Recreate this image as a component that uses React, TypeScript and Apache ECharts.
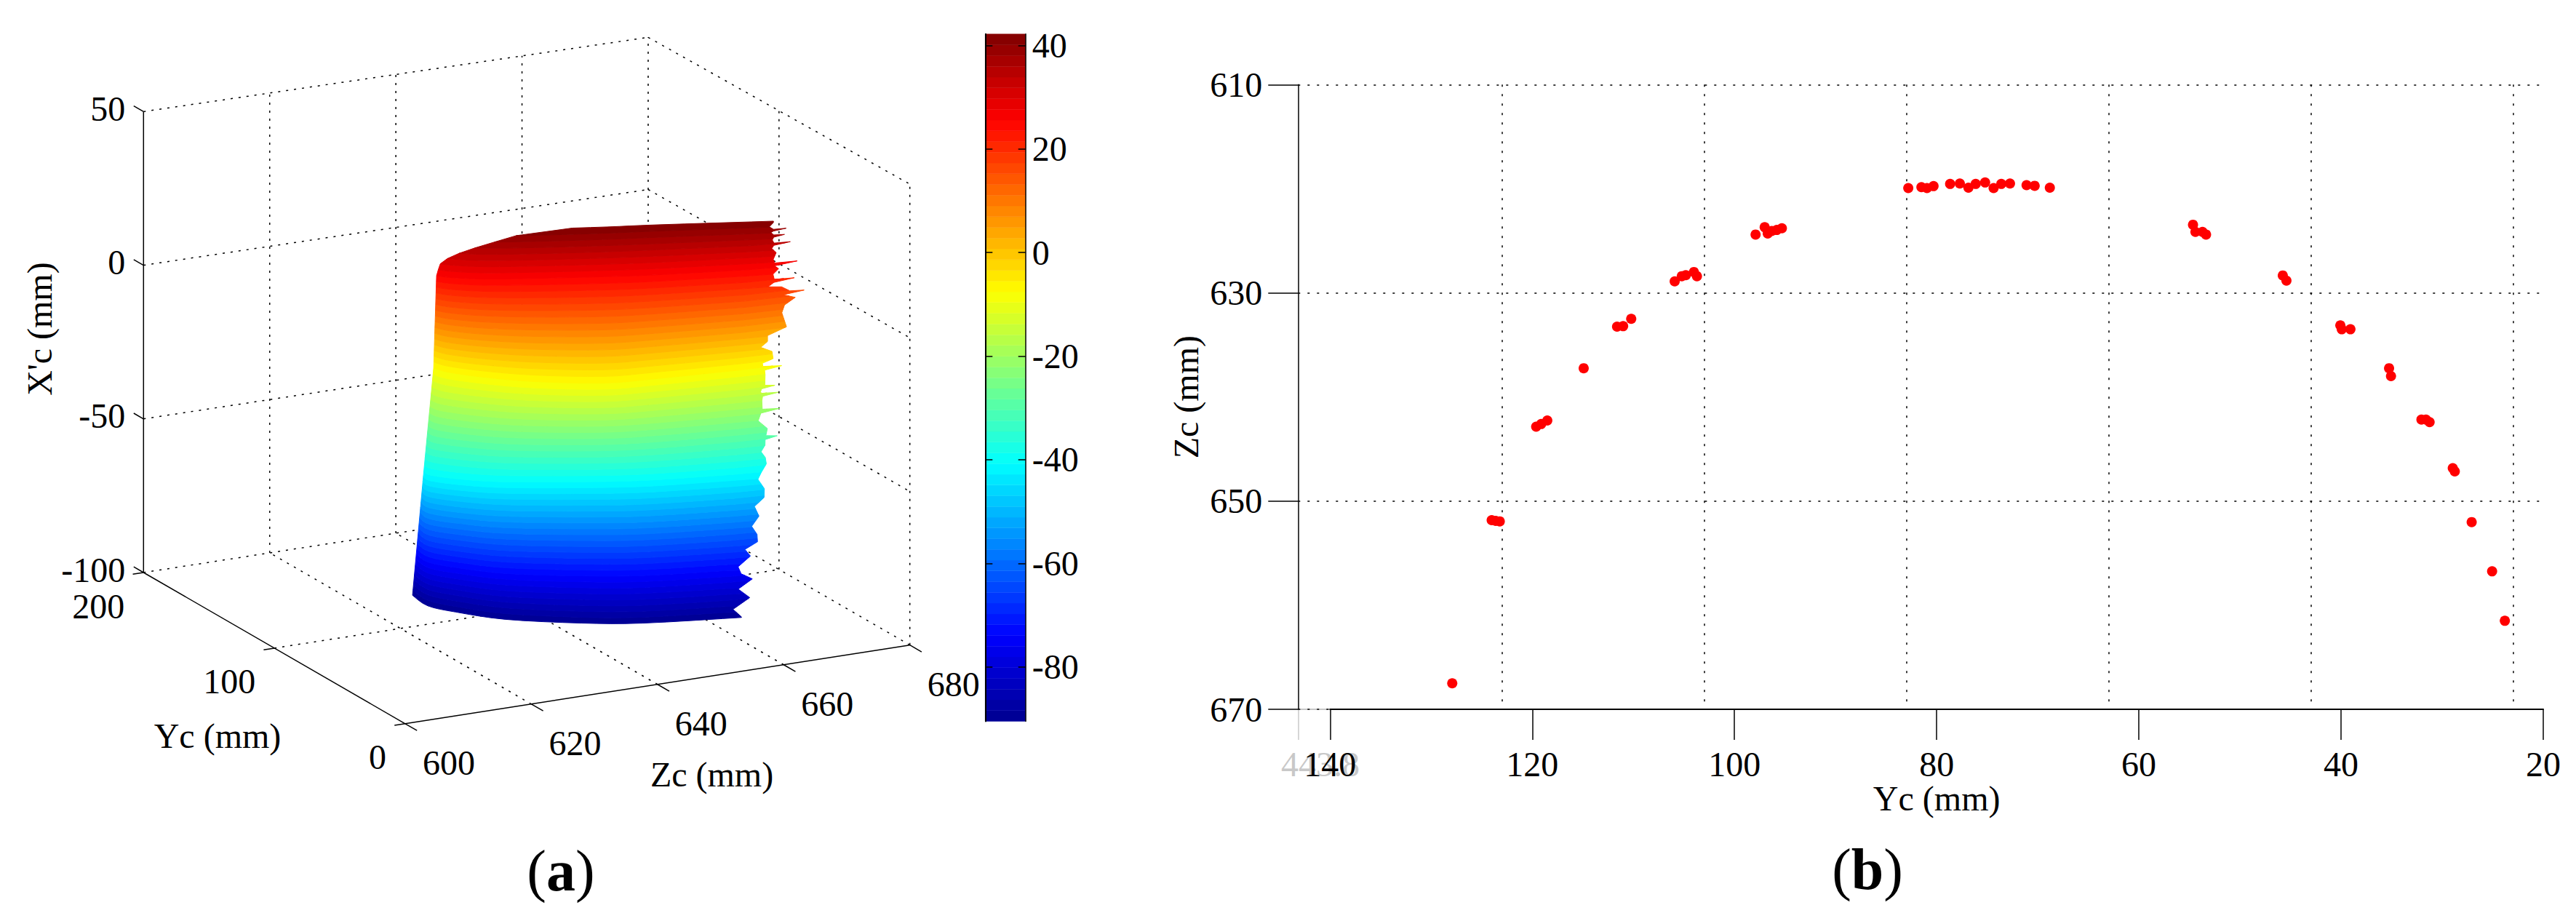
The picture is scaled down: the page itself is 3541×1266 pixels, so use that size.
import { useEffect, useRef } from 'react'
import * as echarts from 'echarts'

const SERIF = 'Liberation Serif'

// panel (a) axes
const zcTicks = [600, 620, 640, 660, 680]
const ycTicks = [0, 100, 200]
const xcTicks = [-100, -50, 0, 50]

// colour bar
const colorTicks = [-80, -60, -40, -20, 0, 20, 40]
const levelEdges = [
  -90.5, -88.43, -86.35, -84.28, -82.21, -80.13, -78.06, -75.99, -73.91, -71.84, -69.77, -67.69, -65.62,
  -63.55, -61.47, -59.4, -57.33, -55.25, -53.18, -51.11, -49.03, -46.96, -44.89, -42.81, -40.74, -38.67,
  -36.59, -34.52, -32.45, -30.37, -28.3, -26.23, -24.15, -22.08, -20.01, -17.93, -15.86, -13.79, -11.71,
  -9.64, -7.57, -5.49, -3.42, -1.35, 0.73, 2.8, 4.87, 6.95, 9.02, 11.09, 13.17, 15.24, 17.31, 19.39, 21.46,
  23.53, 25.61, 27.68, 29.75, 31.83, 33.9, 35.97, 38.05, 40.12, 42.2,
]

// surface cross sections, one row of stations per X'c value
const sectionXc = [-90.5, -41, -7.6, 25.6, 42.2]
const sectionZc = [
  [622.36, 621.99, 624.15, 628.79, 637.43, 645.05, 658.64],
  [617.63, 617.55, 620.96, 625.93, 636.7, 644.53, 658.79],
  [619.16, 619.93, 623.37, 628.77, 637.07, 644.36, 659.78],
  [617.37, 618.78, 622.55, 629.06, 638.06, 644.8, 660.63],
  [617.46, 618.8, 622.57, 629.07, 638.16, 644.97, 660.18],
]
const sectionYc = [
  [102.2, 88.74, 77.73, 62.01, 45.85, 35.86, 25.72],
  [70.79, 65.12, 54.87, 45.46, 31.79, 23.92, 14.82],
  [70.62, 63.82, 52.57, 39.7, 26.88, 23.09, 17.29],
  [59.78, 55.51, 48.64, 41.06, 31.64, 25.2, 13.09],
  [58.02, 53.37, 46.5, 38.93, 29.89, 23.83, 8.68],
]

// torn right edge of the surface: extra Zc (mm) past the last station
const rightEdgeXc = [
  -90.3, -87.2, -84, -80.4, -77.6, -75.2, -72.6, -69.5, -66.9, -64.9, -62.3, -59.2, -56, -52.4, -49.8, -46.7,
  -43.1, -41, -38.4, -36.3, -34.3, -32.4, -30.6, -30, -29.4, -27.2, -24.3, -22, -21.4, -20.8, -18.1, -16.7,
  -16.2, -15.7, -15.2, -14.3, -13.8, -13.3, -11.9, -10, -8.5, -7.9, -7.2, -6.1, -5.1, -2.6, -0.6, 1, 3, 5,
  7.5, 10, 12.5, 14.5, 16, 16.5, 17, 18.8, 19.5, 20.7, 21.2, 21.7, 23.5, 25.1, 26.3, 26.8, 27.3, 28.7, 30.9,
  32.6, 33.6, 34, 34.4, 35.6, 36.5, 36.9, 37.3, 38.3, 38.7, 39, 39.3, 40.4, 41.7,
]
const rightEdgeZc = [
  0, -1.5, 1, -1, 1.1, -0.8, -1.4, 0.4, -0.6, 1.3, 1.1, 0.1, 1.1, 0.2, 1.6, 1.5,
  0.3, 0.7, 1.5, 1.3, 0.6, 1.2, 1.2, 3.1, 1.3, 1.5, 0, 0.4, 3.4, 0.6, 0.5, 0.6,
  3.1, 0.4, 0.25, 0.4, 2.5, 0.9, 0.9, 0.9, 0.8, 3.5, 0.5, 0.35, 2, 1.7, -0.2, 0.8, 0.7, 3.6,
  3.1, 2.6, 2.9, 4.5, 2.5, 5.8, 3.5, 2.1, -0.1, 0.8, 4, 0.8, 0.5, 1.3, 0.6, 4.2, 0.6, 0.35, 0.75,
  0, 0.3, 2.9, 0.3, 0, 0.2, 1.9, 0.2, -0.3, 0.1, 2.1, 0.1, -0.6, 0,
]

// the upper left rim cuts the top rows: first station drawn per X'c
const rimXc = [25.6, 30, 33.4, 36.3, 39.1, 40.5, 41.7, 42.2]
const rimStation = [0, 0.35, 1.14, 1.8, 2.43, 2.7, 3.2, 3.5]

// panel (b) scan points
const scanYc = [
  127.9, 124, 123.6, 123.2, 119.6, 119.1, 118.5, 114.9, 111.6, 111, 110.2, 105.9, 105.2, 104.8, 104, 103.7,
  97.9, 97, 96.7, 96.3, 95.8, 95.3, 82.8, 81.5, 80.95, 80.3, 78.66, 77.7, 76.85, 76.13, 75.2, 74.36, 73.6,
  72.74, 71.1, 70.3, 68.8, 54.64, 54.4, 53.7, 53.35, 45.76, 45.4, 40.07, 39.93, 39.07, 35.25, 35.06, 32.05,
  31.6, 31.24, 28.95, 28.75, 27.08, 25.06, 23.8,
]
const scanZc = [
  667.5, 651.83, 651.9, 651.95, 642.85, 642.6, 642.26, 637.24, 633.25, 633.2, 632.5, 628.9, 628.4, 628.3, 628,
  628.4, 624.4, 623.7, 624.3, 624.06, 623.96, 623.8, 619.94, 619.85, 619.94, 619.75, 619.54, 619.5, 619.9,
  619.54, 619.4, 619.94, 619.54, 619.5, 619.66, 619.72, 619.9, 623.46, 624.15, 624.15, 624.4, 628.33, 628.83,
  633.13, 633.5, 633.5, 637.24, 638, 642.17, 642.17, 642.42, 646.84, 647.15, 652.02, 656.75, 661.5,
]
const ycAxisTicks = [140, 120, 100, 80, 60, 40, 20]
const ycGridLines = [123, 103, 83, 63, 43, 23]
const zcAxisTicks = [610, 630, 650, 670]

const JET = ['#00008f', '#0000ff', '#007fff', '#00ffff', '#7fff7f', '#ffff00', '#ff7f00', '#ff0000', '#7f0000']

// 3D view of panel (a), in the units of the hidden plane axes
function project(zc: number, yc: number, xc: number): number[] {
  const z = zc - 600
  const h = xc + 100
  return [
    359.7 + 8.671 * z - 1.7985 * yc,
    1.351 * z + 1.039 * yc + 4.224 * h - 6 * (z / 80) * (yc / 200) * (h / 150),
  ]
}

function lerp(xs: number[], ys: number[], x: number) {
  if (x <= xs[0]) return ys[0]
  for (let i = 1; i < xs.length; i++) {
    if (x <= xs[i]) return ys[i - 1] + ((ys[i] - ys[i - 1]) * (x - xs[i - 1])) / (xs[i] - xs[i - 1])
  }
  return ys[ys.length - 1]
}

function sectionAt(xc: number) {
  return sectionZc[0].map((_, s) => [
    lerp(sectionXc, sectionZc.map((r) => r[s]), xc),
    lerp(sectionXc, sectionYc.map((r) => r[s]), xc),
  ])
}

// rounds the section between its stations so the rim does not look faceted
function curveAt(sec: number[][], s: number) {
  const last = sec.length - 1
  const i = Math.min(Math.floor(s), last - 1)
  const t = s - i
  const p0 = sec[Math.max(i - 1, 0)]
  const p1 = sec[i]
  const p2 = sec[i + 1]
  const p3 = sec[Math.min(i + 2, last)]
  return [0, 1].map(
    (k) =>
      0.5 *
      (2 * p1[k] +
        (p2[k] - p0[k]) * t +
        (2 * p0[k] - 5 * p1[k] + 4 * p2[k] - p3[k]) * t * t +
        (3 * p1[k] - p0[k] - 3 * p2[k] + p3[k]) * t * t * t),
  )
}

// one X'c row, from the left rim to the torn right end
function rowPoints(xc: number) {
  const sec = sectionAt(xc)
  const last = sec.length - 1
  const start = xc <= rimXc[0] ? 0 : lerp(rimXc, rimStation, xc)
  const pts: number[][] = []
  for (let s = start; s < last; s += 0.25) {
    const c = curveAt(sec, s)
    pts.push(project(c[0], c[1], xc))
  }
  pts.push(project(sec[last][0] + lerp(rightEdgeXc, rightEdgeZc, xc), sec[last][1], xc))
  return pts
}

function bandOutline(lo: number, hi: number) {
  const pts = rowPoints(lo)
  rightEdgeXc.forEach((xc, i) => {
    if (xc > lo && xc < hi) {
      const sec = sectionAt(xc)
      const end = sec[sec.length - 1]
      pts.push(project(end[0] + rightEdgeZc[i], end[1], xc))
    }
  })
  return pts.concat(rowPoints(hi).reverse())
}

type Seg = { a: number[]; b: number[]; dotted: boolean }
const boxSegs: Seg[] = []
const minX = xcTicks[0]
const maxX = xcTicks[xcTicks.length - 1]
zcTicks.slice(1).forEach((z) => {
  boxSegs.push({ a: [z, 200, minX], b: [z, 200, maxX], dotted: true })
  boxSegs.push({ a: [z, 0, minX], b: [z, 200, minX], dotted: true })
})
ycTicks.slice(1).forEach((y) => boxSegs.push({ a: [600, y, minX], b: [680, y, minX], dotted: true }))
ycTicks.slice(0, 2).forEach((y) => boxSegs.push({ a: [680, y, minX], b: [680, y, maxX], dotted: true }))
xcTicks.slice(1).forEach((x) => {
  boxSegs.push({ a: [600, 200, x], b: [680, 200, x], dotted: true })
  boxSegs.push({ a: [680, 200, x], b: [680, 0, x], dotted: true })
})
boxSegs.push({ a: [600, 200, minX], b: [600, 200, maxX], dotted: false })
boxSegs.push({ a: [600, 0, minX], b: [600, 200, minX], dotted: false })
boxSegs.push({ a: [600, 0, minX], b: [680, 0, minX], dotted: false })
zcTicks.forEach((z) => boxSegs.push({ a: [z, 0, minX], b: [z, -9, minX], dotted: false }))
ycTicks.forEach((y) => boxSegs.push({ a: [600, y, minX], b: [598.3, y, minX], dotted: false }))
xcTicks.forEach((x) => boxSegs.push({ a: [600, 200, x], b: [600, 207.5, x], dotted: false }))

type Lab = { at: number[]; text: string; dx: number; dy: number; align: string }
const boxLabels: Lab[] = [
  ...zcTicks.map((z) => ({ at: [z, 0, minX], text: String(z), dx: 60, dy: 53.5, align: 'center' })),
  ...ycTicks.map((y) => ({ at: [600, y, minX], text: String(y), dx: -26, dy: 46, align: 'right' })),
  ...xcTicks.map((x) => ({ at: [600, 200, x], text: String(x), dx: -25, dy: -4, align: 'right' })),
]

const bands = levelEdges.slice(1).map((hi, i) => [(levelEdges[i] + hi) / 2, levelEdges[i], hi])
const FONT48 = `48px "${SERIF}"`

function flatText(x: number, y: number, text: string, extra: object = {}) {
  return {
    type: 'text',
    x,
    y,
    silent: true,
    style: { text, font: FONT48, fill: '#000', textAlign: 'center', textVerticalAlign: 'middle' },
    ...extra,
  }
}

function panelLetter(x: number, y: number, letter: string) {
  return {
    type: 'text',
    x,
    y,
    silent: true,
    style: {
      text: `{r|(}{b|${letter}}{r|)}`,
      textAlign: 'center',
      textVerticalAlign: 'middle',
      rich: {
        r: { font: `80px "${SERIF}"`, fill: '#000' },
        b: { font: `bold 80px "${SERIF}"`, fill: '#000' },
      },
    },
  }
}

export default function App() {
  const ref = useRef<HTMLDivElement>(null)

  useEffect(() => {
    if (!ref.current) return
    document.body.style.margin = '0'
    document.body.style.overflow = 'hidden'
    const chart = echarts.init(ref.current, null, { renderer: 'svg' })

    const option = {
      animation: false,
      backgroundColor: '#fff',
      textStyle: { fontFamily: SERIF },
      visualMap: {
        type: 'continuous',
        show: false,
        min: levelEdges[0],
        max: levelEdges[levelEdges.length - 1],
        dimension: 0,
        seriesIndex: [2, 3],
        inRange: { color: JET },
      },
      grid: [
        { left: 197.3, top: 44, width: 1053.7, height: 950.8 },
        { left: 1354.3, top: 46.8, width: 55.4, height: 944.7 },
        { left: 1784.3, top: 116.3, width: 1711.7, height: 858.7 },
        { left: 1828.3, top: 116.3, width: 1667.7, height: 858.7 },
      ],
      xAxis: [
        { type: 'value', gridIndex: 0, min: 0, max: 1053.7, show: false },
        { type: 'value', gridIndex: 1, min: 0, max: 1, show: false },
        {
          type: 'value',
          gridIndex: 2,
          min: 20,
          max: 143.15,
          inverse: true,
          axisLine: { lineStyle: { color: '#c8c8c8', width: 2 } },
          axisTick: { customValues: [143.15], length: 42, lineStyle: { color: '#c8c8c8', width: 1.5 } },
          axisLabel: { show: false },
          splitLine: { show: false },
        },
        {
          type: 'value',
          gridIndex: 2,
          min: 20,
          max: 143.15,
          inverse: true,
          axisLine: { show: false },
          axisTick: { show: false, customValues: ycGridLines },
          axisLabel: { show: false },
          splitLine: { show: true, lineStyle: { color: '#000', width: 1.5, type: [3, 10] } },
        },
        {
          type: 'value',
          gridIndex: 3,
          min: 20,
          max: 140,
          inverse: true,
          z: 5,
          name: 'Yc (mm)',
          nameLocation: 'middle',
          nameGap: 98,
          nameMoveOverlap: false,
          nameTextStyle: { fontSize: 48, color: '#000', fontFamily: SERIF },
          axisLine: { lineStyle: { color: '#000', width: 2 } },
          axisTick: { customValues: ycAxisTicks, length: 42, lineStyle: { color: '#000', width: 1.5 } },
          axisLabel: { customValues: ycAxisTicks, fontSize: 48, color: '#000', margin: 51, fontFamily: SERIF },
          splitLine: { show: false },
        },
      ],
      yAxis: [
        { type: 'value', gridIndex: 0, min: 0, max: 950.8, show: false },
        {
          type: 'value',
          gridIndex: 1,
          min: levelEdges[0],
          max: levelEdges[levelEdges.length - 1],
          position: 'left',
          z: 5,
          axisLine: { lineStyle: { color: '#000', width: 2 } },
          axisTick: { inside: true, length: 10, customValues: colorTicks, lineStyle: { color: '#000', width: 1.5 } },
          axisLabel: { show: false },
          splitLine: { show: false },
        },
        {
          type: 'value',
          gridIndex: 1,
          min: levelEdges[0],
          max: levelEdges[levelEdges.length - 1],
          position: 'right',
          z: 5,
          axisLine: { lineStyle: { color: '#000', width: 1.5 } },
          axisTick: { inside: true, length: 10, customValues: colorTicks, lineStyle: { color: '#000', width: 1.5 } },
          axisLabel: { customValues: colorTicks, fontSize: 48, color: '#000', margin: 9, fontFamily: SERIF },
          splitLine: { show: false },
        },
        {
          type: 'value',
          gridIndex: 2,
          min: 610,
          max: 670,
          inverse: true,
          z: 5,
          name: 'Zc (mm)',
          nameLocation: 'middle',
          nameGap: 130,
          nameRotate: 90,
          nameTextStyle: { fontSize: 48, color: '#000', fontFamily: SERIF },
          axisLine: { lineStyle: { color: '#000', width: 1.5 } },
          axisTick: { customValues: zcAxisTicks, length: 41, lineStyle: { color: '#000', width: 1.5 } },
          axisLabel: { customValues: zcAxisTicks, fontSize: 48, color: '#000', margin: 49, fontFamily: SERIF },
          splitLine: { show: true, lineStyle: { color: '#000', width: 1.5, type: [3, 10] } },
        },
        { type: 'value', gridIndex: 3, min: 610, max: 670, inverse: true, show: false },
      ],
      series: [
        {
          type: 'custom',
          name: 'box',
          coordinateSystem: 'cartesian2d',
          xAxisIndex: 0,
          yAxisIndex: 0,
          z: 1,
          silent: true,
          data: boxSegs.map((_, i) => [i, 0]),
          renderItem: (params: any, api: any) => {
            const seg = boxSegs[params.dataIndex]
            const p = api.coord(project(seg.a[0], seg.a[1], seg.a[2]))
            const q = api.coord(project(seg.b[0], seg.b[1], seg.b[2]))
            return {
              type: 'line',
              shape: { x1: p[0], y1: p[1], x2: q[0], y2: q[1] },
              style: { stroke: '#000', lineWidth: 1.5, lineDash: seg.dotted ? [3, 8] : null },
            }
          },
        },
        {
          type: 'custom',
          name: 'box labels',
          coordinateSystem: 'cartesian2d',
          xAxisIndex: 0,
          yAxisIndex: 0,
          z: 1,
          silent: true,
          data: boxLabels.map((_, i) => [i, 0]),
          renderItem: (params: any, api: any) => {
            const lab = boxLabels[params.dataIndex]
            const p = api.coord(project(lab.at[0], lab.at[1], lab.at[2]))
            return {
              type: 'text',
              x: p[0] + lab.dx,
              y: p[1] + lab.dy,
              style: { text: lab.text, font: FONT48, fill: '#000', textAlign: lab.align, textVerticalAlign: 'middle' },
            }
          },
        },
        {
          type: 'custom',
          name: 'surface',
          coordinateSystem: 'cartesian2d',
          xAxisIndex: 0,
          yAxisIndex: 0,
          z: 3,
          silent: true,
          data: bands,
          renderItem: (params: any, api: any) => {
            const band = bands[params.dataIndex]
            const color = api.visual('color')
            return {
              type: 'polygon',
              shape: { points: bandOutline(band[1], band[2]).map((p) => api.coord(p)) },
              style: { fill: color, stroke: color, lineWidth: 1 },
            }
          },
        },
        {
          type: 'custom',
          name: 'colour bar',
          coordinateSystem: 'cartesian2d',
          xAxisIndex: 1,
          yAxisIndex: 1,
          z: 2,
          silent: true,
          data: bands,
          renderItem: (params: any, api: any) => {
            const band = bands[params.dataIndex]
            const color = api.visual('color')
            const top = api.coord([0, band[2]])
            const bottom = api.coord([1, band[1]])
            return {
              type: 'rect',
              shape: { x: top[0], y: top[1], width: bottom[0] - top[0], height: bottom[1] - top[1] },
              style: { fill: color, stroke: color, lineWidth: 0.5 },
            }
          },
        },
        {
          type: 'scatter',
          name: 'scan',
          xAxisIndex: 2,
          yAxisIndex: 3,
          symbol: 'circle',
          symbolSize: 14,
          z: 3,
          silent: true,
          itemStyle: { color: '#ff0000', opacity: 1 },
          data: scanYc.map((y, i) => [y, scanZc[i]]),
        },
      ],
      graphic: [
        flatText(299, 1011.7, 'Yc (mm)'),
        flatText(978.5, 1064, 'Zc (mm)'),
        flatText(54.7, 452, "X'c (mm)", { rotation: Math.PI / 2 }),
        flatText(1815, 1050, '443.8', {
          style: { text: '443.8', font: FONT48, fill: '#c8c8c8', textAlign: 'center', textVerticalAlign: 'middle' },
        }),
        panelLetter(771, 1197, 'a'),
        panelLetter(2567, 1195, 'b'),
      ],
    }

    chart.setOption(option as any)

    return () => {
      chart.dispose()
    }
  }, [])

  return <div ref={ref} style={{ width: 3541, height: 1266 }} />
}
